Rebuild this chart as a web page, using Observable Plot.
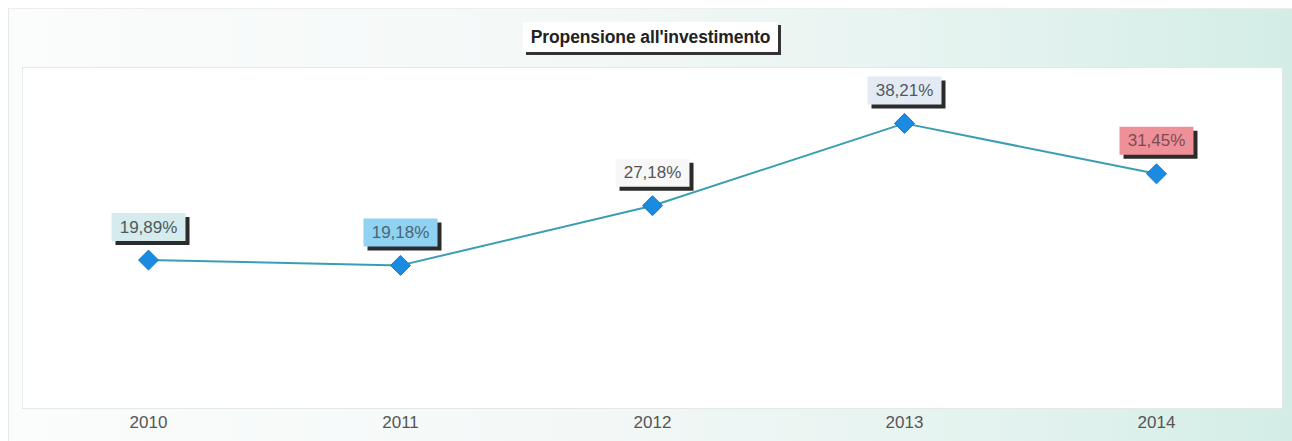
<!DOCTYPE html>
<html>
<head>
<meta charset="utf-8">
<script src="https://cdn.jsdelivr.net/npm/d3@7"></script>
<script src="https://cdn.jsdelivr.net/npm/@observablehq/plot@0.6"></script>
<style>
  html, body { margin: 0; padding: 0; background: #ffffff; }
  #wrap { position: relative; width: 1292px; height: 441px; overflow: hidden; font-family: "Liberation Sans", Arial, sans-serif; }
  #bg { position: absolute; left: 8px; top: 8px; right: 0; bottom: 0;
        background: linear-gradient(90deg, #fbfcfc 0%, #f3f8f7 45%, #e2f2ee 80%, #d3ede6 100%);
        border-left: 1px solid #e6e9e9; border-top: 1px solid #eceeee; }
  #chart { position: absolute; left: 0; top: 0; }
  #title { position: absolute; left: 523px; top: 22px; width: 255px; height: 30px;
           background: #ffffff; color: #222; font-weight: bold; font-size: 17.5px;
           line-height: 30px; text-align: center; letter-spacing: -0.1px;
           box-shadow: 3px 3px 0 #333; }
</style>
</head>
<body>
<div id="wrap">
  <div id="bg"></div>
  <div id="chart"></div>
  <div id="title">Propensione all'investimento</div>
</div>
<script>
const years = ["2010", "2011", "2012", "2013", "2014"];
const values = [19.89, 19.18, 27.18, 38.21, 31.45];
const labels = ["19,89%", "19,18%", "27,18%", "38,21%", "31,45%"];
const labelFills = ["#d5ebed", "#8fd2f2", "#f7f7f7", "#e3eaf3", "#ef9099"];
const labelInk = ["#4b5a5c", "#4d6475", "#555555", "#4f5a66", "#7a4d52"];

const data = years.map((y, i) => ({year: y, value: values[i], label: labels[i], fill: labelFills[i], ink: labelInk[i]}));

const boxSymbol = { draw(context) { context.rect(-37, -14, 74, 28); } };

const chart = Plot.plot({
  width: 1292,
  height: 441,
  marginLeft: 22,
  marginRight: 10,
  marginTop: 67,
  marginBottom: 33,
  style: { background: "transparent", fontFamily: "Liberation Sans, Arial, sans-serif" },
  x: { type: "point", domain: years, padding: 0.5, label: null },
  y: { domain: [0, 45.7], axis: null },
  marks: [
    Plot.frame({ fill: "#ffffff", stroke: "#e4e8e8" }),
    Plot.axisX({ tickSize: 0, tickPadding: 7, fontSize: 17, color: "#555", label: null }),
    Plot.line(data, { x: "year", y: "value", stroke: "#3a9db2", strokeWidth: 2 }),
    Plot.dot(data, { x: "year", y: "value", symbol: "diamond2", r: 9, fill: "#1a8be0", stroke: "#1479c4", strokeWidth: 1 }),
    Plot.dot(data, { x: "year", y: "value", symbol: boxSymbol, r: 10, fill: "#2b2b2b", dx: 4, dy: -29 }),
    Plot.dot(data, { x: "year", y: "value", symbol: boxSymbol, r: 10, fill: "fill", dy: -33 }),
    Plot.text(data, { x: "year", y: "value", text: "label", fill: "ink", dy: -33, fontSize: 17 })
  ]
});
document.getElementById("chart").appendChild(chart);
</script>
</body>
</html>
